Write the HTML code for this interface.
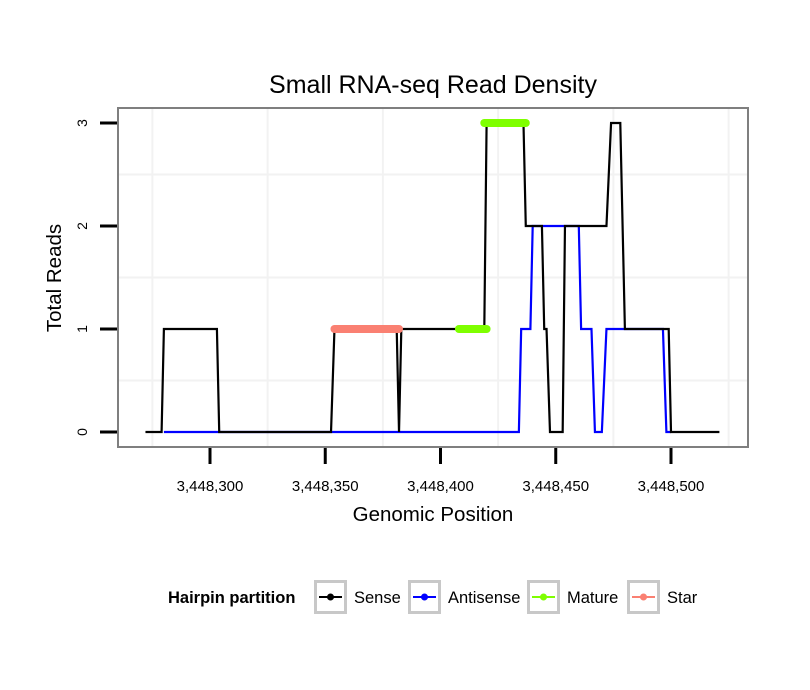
<!DOCTYPE html>
<html><head><meta charset="utf-8"><style>
body{margin:0;background:#fff;}
svg{display:block;font-family:"Liberation Sans",sans-serif;}
</style></head><body>
<svg id="chart" width="810" height="690">
<text x="433" y="93" font-size="25" text-anchor="middle">Small RNA-seq Read Density</text>
<rect x="118" y="108" width="630" height="339" fill="#fff" stroke="none"/>
<g id="grid"></g>
<g id="series"></g>
<rect x="118" y="108" width="630" height="339" fill="none" stroke="#7f7f7f" stroke-width="2"/>
<g id="axes"></g>
<text x="433" y="521" font-size="20.5" text-anchor="middle">Genomic Position</text>
<text transform="translate(61,278) rotate(-90)" font-size="20.5" text-anchor="middle">Total Reads</text>
<g id="legend">
<text x="168" y="603" font-size="16.5" font-weight="bold">Hairpin partition</text>
</g>
</svg>
<script>
const xTicks=[3448300,3448350,3448400,3448450,3448500];
const xTickLabels=["3,448,300","3,448,350","3,448,400","3,448,450","3,448,500"];
const yTicks=[0,1,2,3];
const senseX=[3448272,3448279,3448280,3448303,3448304,3448352.5,3448354,3448381,3448382,3448383,3448419,3448420,3448436,3448437,3448444,3448445,3448446,3448447.5,3448453,3448454,3448472,3448474,3448478,3448480,3448499,3448500,3448521];
const senseY=[0,0,1,1,0,0,1,1,0,1,1,3,3,2,2,1,1,0,0,2,2,3,3,1,1,0,0];
const antiX=[3448280,3448434,3448435,3448439,3448440,3448460,3448461,3448465.5,3448467,3448470,3448472,3448496.5,3448498,3448500];
const antiY=[0,0,1,1,2,2,1,1,0,0,1,1,0,0];
const matureX=[[3448408,3448420],[3448419,3448437]];
const matureY=[1,3];
const starX=[[3448354,3448382]];
const starY=[1];
const legendLabels=["Sense","Antisense","Mature","Star"];
const legendColors=["#000","#00f","#7fff00","#fa8072"];

const NS="http://www.w3.org/2000/svg";
const sx=v=>210+(v-3448300)*2.305;
const sy=v=>432-v*103;
function mk(tag,attrs,parent){const e=document.createElementNS(NS,tag);for(const k in attrs)e.setAttribute(k,attrs[k]);parent.appendChild(e);return e;}
const grid=document.getElementById('grid'),series=document.getElementById('series'),axes=document.getElementById('axes'),legend=document.getElementById('legend');
[3448275,3448325,3448375,3448425,3448475,3448525].forEach(v=>{const l=mk('line',{x1:sx(v),x2:sx(v),y1:109,y2:446,stroke:'#f2f2f2','stroke-width':2},grid);

});
[0.5,1.5,2.5].forEach(v=>{const l=mk('line',{x1:119,x2:747,y1:sy(v),y2:sy(v),stroke:'#f2f2f2','stroke-width':2},grid);

});
xTicks.forEach((v,i)=>{const t=mk('line',{x1:sx(v),x2:sx(v),y1:448,y2:464,stroke:'#000','stroke-width':3},axes);


const tx=mk('text',{x:sx(v),y:491,'font-size':15,'text-anchor':'middle'},axes);tx.textContent=xTickLabels[i];

});
yTicks.forEach(v=>{const t=mk('line',{x1:100,x2:117,y1:sy(v),y2:sy(v),stroke:'#000','stroke-width':3},axes);


const tx=mk('text',{transform:`translate(87,${sy(v)}) rotate(-90)`,'font-size':14,'text-anchor':'middle'},axes);tx.textContent=String(v);

});
function line(xs,ys,color,name){const p=mk('polyline',{points:xs.map((x,i)=>sx(x)+','+sy(ys[i])).join(' '),fill:'none',stroke:color,'stroke-width':2.2,'stroke-linejoin':'miter'},series);

}
line(antiX,antiY,'#00f','antisense-line');
line(senseX,senseY,'#000','sense-line');
function seg(xs,ys,color,name){xs.forEach((r,i)=>{const l=mk('line',{x1:sx(r[0]),x2:sx(r[1]),y1:sy(ys[i]),y2:sy(ys[i]),stroke:color,'stroke-width':8,'stroke-linecap':'round'},series);

});}
seg(starX,starY,'#fa8072','star-segment');
seg(matureX,matureY,'#7fff00','mature-segment');
const boxX=[314,408,527,627],textX=[354,448,567,667];
legendLabels.forEach((lab,i)=>{const g=mk('g',{},legend);


mk('rect',{x:boxX[i]+1.5,y:581.5,width:30,height:31,fill:'#fff',stroke:'#c8c8c8','stroke-width':3},g);
mk('line',{x1:boxX[i]+5,x2:boxX[i]+28,y1:597,y2:597,stroke:legendColors[i],'stroke-width':2},g);
mk('circle',{cx:boxX[i]+16.5,cy:597,r:3.5,fill:legendColors[i]},g);
const t=mk('text',{x:textX[i],y:603,'font-size':16.5},g);t.textContent=lab;});
</script>
</body></html>
